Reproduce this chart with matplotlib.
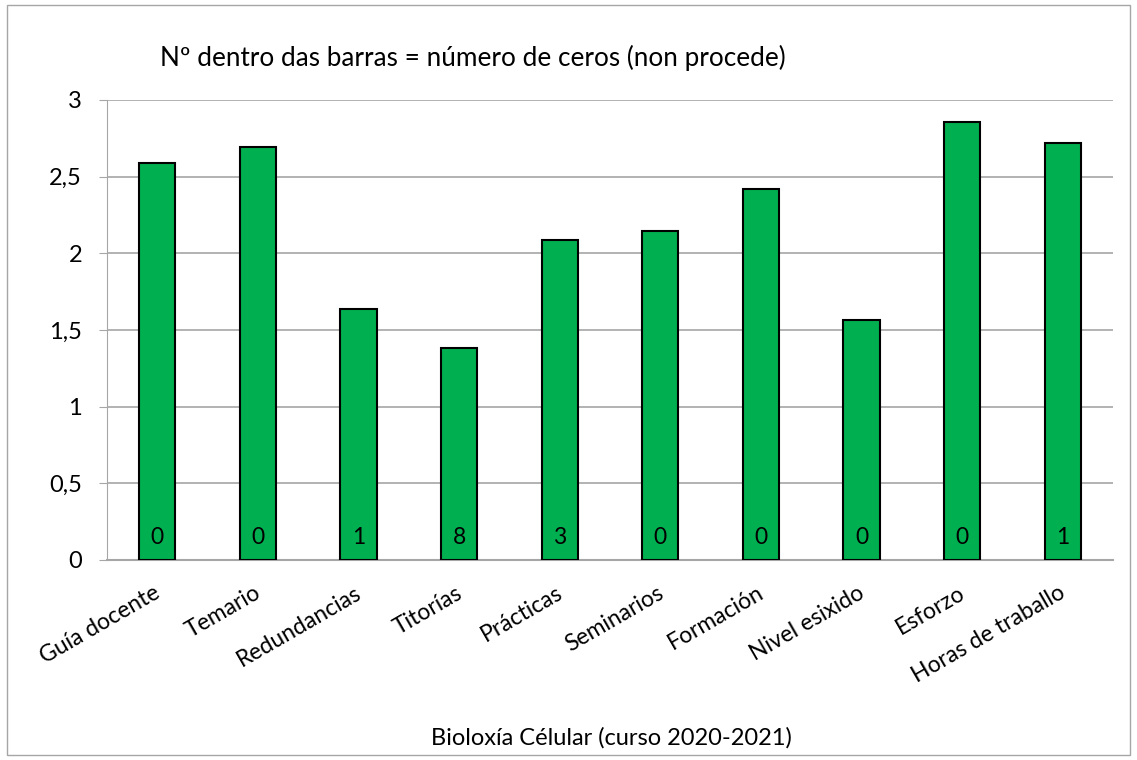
import matplotlib
matplotlib.use('Agg')
import matplotlib.pyplot as plt
from matplotlib import patches

plt.rcParams['font.family'] = ['Lato', 'DejaVu Sans']

categories = ['Guía docente', 'Temario', 'Redundancias', 'Titorías', 'Prácticas',
              'Seminarios', 'Formación', 'Nivel esixido', 'Esforzo', 'Horas de traballo']
values = [2.588, 2.692, 1.639, 1.385, 2.087, 2.146, 2.422, 1.566, 2.859, 2.72]
zeros = [0, 0, 1, 8, 3, 0, 0, 0, 0, 1]
yticks = [0, 0.5, 1, 1.5, 2, 2.5, 3]
ytick_labels = ['0', '0,5', '1', '1,5', '2', '2,5', '3']

W, H = 1137, 760
fig = plt.figure(figsize=(W / 100, H / 100), dpi=100)
ax = fig.add_axes([107 / W, 1 - 560 / H, (1113 - 107) / W, (560 - 100) / H])

x = range(len(categories))
ax.bar(x, values, width=0.36, color='#00B050', edgecolor='black', linewidth=1.5, zorder=3)
for i, n in enumerate(zeros):
    ax.text(i, 0.15, str(n), ha='center', va='center', fontsize=16.5, zorder=4)

ax.set_xlim(-0.5, len(categories) - 0.5)
ax.set_ylim(0, 3)
ax.set_yticks(yticks)
ax.set_yticklabels(ytick_labels, fontsize=17)
ax.set_xticks([i - 0.04 for i in x])
ax.set_xticklabels(categories, fontsize=16.5, rotation=30, ha='right', va='top',
                   rotation_mode='anchor')
ax.tick_params(axis='x', length=0, pad=16)
ax.tick_params(axis='y', length=6, color='#A6A6A6', pad=12)
ax.yaxis.grid(True, color='#A6A6A6', linewidth=1.2, zorder=0)
for s in ['top', 'right']:
    ax.spines[s].set_visible(False)
ax.spines['left'].set_color('#A6A6A6')
ax.spines['bottom'].set_color('#A6A6A6')
ax.spines['bottom'].set_linewidth(1.5)

fig.text(160 / W, 1 - 58 / H, 'Nº dentro das barras = número de ceros (non procede)',
         fontsize=18.8, ha='left', va='center')
fig.text(611 / W, 1 - 738 / H, 'Bioloxía Célular (curso 2020-2021)',
         fontsize=17, ha='center', va='center')

fig.patches.append(patches.Rectangle((7 / W, 5 / H), 1 - 14 / W, 1 - 10 / H,
                                     transform=fig.transFigure, fill=False,
                                     edgecolor='#A6A6A6', linewidth=1))

fig.savefig('out.png', dpi=100)
